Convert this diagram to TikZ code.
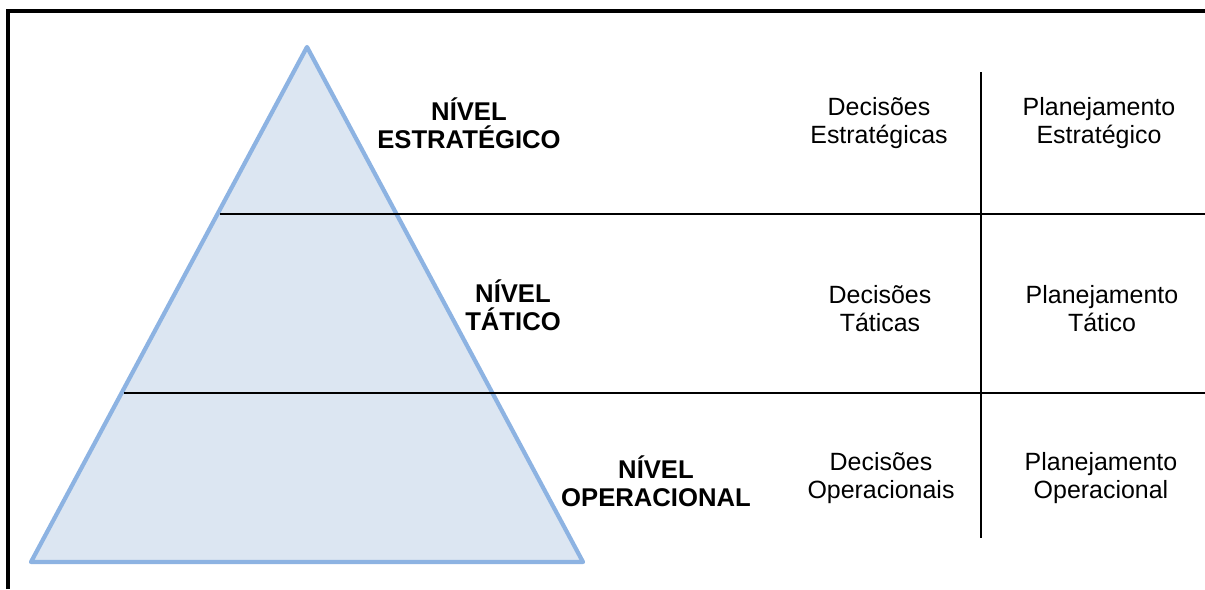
\documentclass[tikz,border=0pt]{standalone}
\usepackage{fontspec}
\setmainfont{Liberation Sans}
\begin{document}
\begin{tikzpicture}[x=0.02cm, y=-0.02cm]
    \tikzstyle{nivel}=[align=center, font=\fontsize{14.6}{16}\selectfont\bfseries, inner sep=0pt]
    \tikzstyle{txt}=[align=center, font=\fontsize{14.2}{16}\selectfont, inner sep=0pt]
    \definecolor{piraborda}{HTML}{8DB3E2}
    \definecolor{pirafundo}{HTML}{DCE6F2}

    \useasboundingbox (0,0) rectangle (1205,589);

    % moldura
    \draw[line width=2pt] (8,589) -- (8,11) -- (1205,11);

    % piramide
    \coordinate (topo) at (307,47);
    \coordinate (esq) at (31,562);
    \coordinate (dir) at (583,562);
    \draw[piraborda, fill=pirafundo, line width=2.4pt, line join=round] (topo) -- (esq) -- (dir) -- cycle;

    % divisoes
    \coordinate (l1a) at (220,214);
    \coordinate (l1b) at (1205,214);
    \coordinate (l2a) at (124,393);
    \coordinate (l2b) at (1205,393);
    \coordinate (va) at (981,72);
    \coordinate (vb) at (981,538);
    \draw[line width=0.7pt] (l1a) -- (l1b);
    \draw[line width=0.7pt] (l2a) -- (l2b);
    \draw[line width=0.7pt] (va) -- (vb);

    % niveis
    \node[nivel] (estr) at (469,123) {N\'IVEL\\ESTRAT\'EGICO};
    \node[nivel] (tat) at (513,305) {N\'IVEL\\T\'ATICO};
    \node[nivel] (oper) at (656,481) {N\'IVEL\\OPERACIONAL};

    % decisoes
    \node[txt] (decestr) at (879,123) {Decis\~oes\\Estrat\'egicas};
    \node[txt] (dectat) at (880,309) {Decis\~oes\\T\'aticas};
    \node[txt] (decoper) at (881,478) {Decis\~oes\\Operacionais};

    % planejamento
    \node[txt] (planestr) at (1099,123) {Planejamento\\Estrat\'egico};
    \node[txt] (plantat) at (1102,309) {Planejamento\\T\'atico};
    \node[txt] (planoper) at (1101,478) {Planejamento\\Operacional};
\end{tikzpicture}
\end{document}
